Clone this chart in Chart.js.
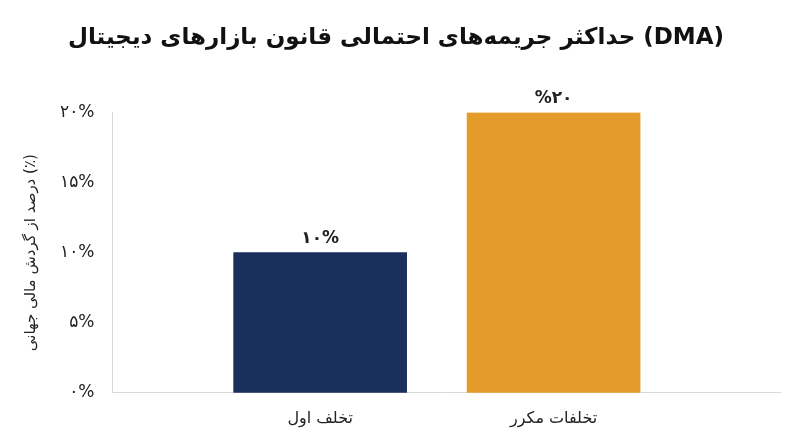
<!DOCTYPE html>
<html><head><meta charset="utf-8">
<script src="https://cdn.jsdelivr.net/npm/chart.js@4"></script>
<style>html,body{margin:0;background:#fff}#w{width:800px;height:447px}</style>
</head><body><div id="w"><canvas id="c"></canvas></div>
<script>
const categories = ['تخلف اول', 'تخلفات مکرر'];
const values = [10, 20];
const valueLabels = ['۱۰%', '%۲۰'];
const yTicks = { 0: '۰%', 5: '۵%', 10: '۱۰%', 15: '۱۵%', 20: '۲۰%' };
const colors = ['#1a2f5c', '#e39c2a'];
const FONT = '"DejaVu Sans", "Noto Sans", sans-serif';

const barLabels = {
  id: 'barLabels',
  afterDatasetsDraw(chart) {
    const ctx = chart.ctx;
    chart.getDatasetMeta(0).data.forEach((bar, i) => {
      ctx.save();
      ctx.font = 'bold 17px ' + FONT;
      ctx.fillStyle = '#222';
      ctx.textAlign = 'center';
      ctx.textBaseline = 'bottom';
      ctx.fillText(valueLabels[i], bar.x, bar.y - 6);
      ctx.restore();
    });
  }
};

new Chart(document.getElementById('c'), {
  type: 'bar',
  data: {
    datasets: [{
      data: values.map((v, i) => ({ x: i, y: v })),
      backgroundColor: colors,
      barThickness: 173,
    }],
  },
  options: {
    responsive: true, maintainAspectRatio: false, animation: false,
    layout: { padding: { top: 10, right: 20, bottom: 11, left: 12 } },
    plugins: {
      legend: { display: false }, tooltip: { enabled: false },
      title: { display: true, text: 'حداکثر جریمه‌های احتمالی قانون بازارهای دیجیتال (DMA)',
               font: { family: FONT, size: 23, weight: 'bold' }, color: '#111', padding: { top: 14, bottom: 61 } },
    },
    scales: {
      x: {
        type: 'linear', min: -0.89, max: 1.97, offset: false,
        afterBuildTicks: s => { s.ticks = categories.map((_, i) => ({ value: i })); },
        ticks: { callback: v => categories[v], font: { family: FONT, size: 16 }, color: '#222', padding: 8 },
        grid: { display: false, offset: false }, border: { color: '#d9d9d9' },
      },
      y: {
        min: 0, max: 20,
        ticks: { stepSize: 5, callback: v => yTicks[v], font: { family: FONT, size: 17 }, color: '#222', padding: 10 },
        grid: { display: false }, border: { color: '#d9d9d9' },
        title: { display: true, text: 'درصد از گردش مالی جهانی (٪)', font: { family: FONT, size: 15 }, color: '#222', padding: 10 },
      },
    },
  },
  plugins: [barLabels],
});
</script></body></html>
